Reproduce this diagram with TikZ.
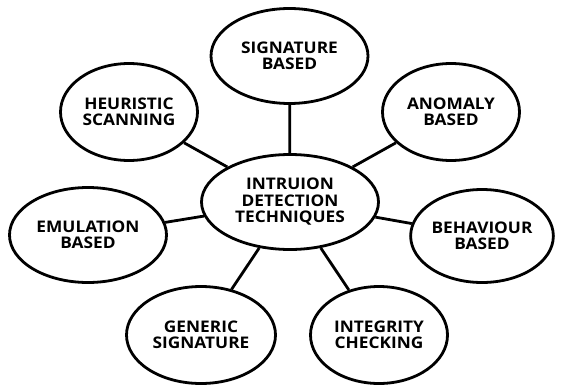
\documentclass[tikz,border=0pt]{standalone}
\usepackage{fontspec}
\setmainfont{Open Sans}[BoldFont={Open Sans Bold},BoldFeatures={FakeStretch=1.08}]
\usetikzlibrary{shapes.geometric}
\begin{document}
\begin{tikzpicture}[x=1pt,y=-1pt,
  bub/.style={draw=black,line width=2.8pt,ellipse,inner sep=0pt,align=center,
    font=\fontsize{16}{16.5}\selectfont\bfseries},
  link/.style={line width=2.8pt}]
\useasboundingbox (0,0) rectangle (564,385);
\node[bub,minimum width=177pt,minimum height=95pt] (c) at (290,202) {INTRUION\\DETECTION\\TECHNIQUES};
\node[bub,minimum width=157pt,minimum height=95pt] (s) at (289.5,56) {SIGNATURE\\BASED};
\node[bub,minimum width=137pt,minimum height=97pt] (a) at (451,112) {ANOMALY\\BASED};
\node[bub,minimum width=137pt,minimum height=97pt] (h) at (129,112) {HEURISTIC\\SCANNING};
\node[bub,minimum width=157pt,minimum height=95pt] (e) at (88,235) {EMULATION\\BASED};
\node[bub,minimum width=141pt,minimum height=93pt] (b) at (482,236) {BEHAVIOUR\\BASED};
\node[bub,minimum width=149pt,minimum height=97pt] (g) at (201,335) {GENERIC\\SIGNATURE};
\node[bub,minimum width=137pt,minimum height=97pt] (i) at (379,335) {INTEGRITY\\CHECKING};
\foreach \n in {s,a,h,e,b,g,i} \draw[link] (c) -- (\n);
\end{tikzpicture}
\end{document}
